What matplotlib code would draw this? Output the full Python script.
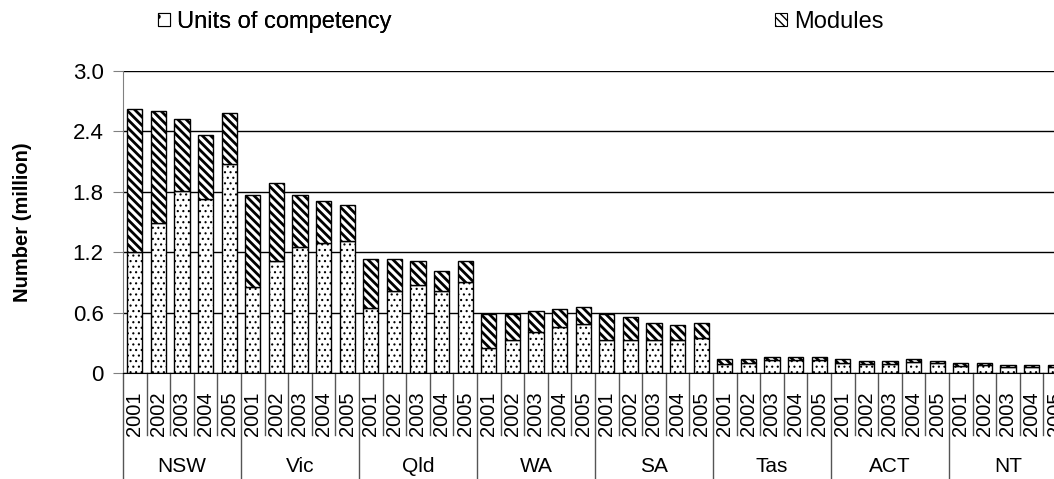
import matplotlib
matplotlib.use("Agg")
import matplotlib.pyplot as plt
import matplotlib.transforms as mtransforms
from matplotlib.patches import Patch
import numpy as np

plt.rcParams['font.family'] = ['Liberation Sans', 'DejaVu Sans']

states = ["NSW", "Vic", "Qld", "WA", "SA", "Tas", "ACT", "NT"]
years = ["2001", "2002", "2003", "2004", "2005"]

# million (state by state, 2001..2005)
units = [1.20, 1.49, 1.81, 1.73, 2.08,
         0.85, 1.11, 1.25, 1.29, 1.31,
         0.65, 0.81, 0.87, 0.81, 0.90,
         0.25, 0.33, 0.41, 0.46, 0.49,
         0.33, 0.33, 0.33, 0.33, 0.35,
         0.093, 0.099, 0.13, 0.13, 0.13,
         0.099, 0.093, 0.093, 0.112, 0.096,
         0.073, 0.075, 0.060, 0.062, 0.062]
modules = [1.42, 1.11, 0.71, 0.63, 0.50,
           0.92, 0.78, 0.52, 0.42, 0.36,
           0.48, 0.32, 0.24, 0.20, 0.21,
           0.34, 0.26, 0.205, 0.175, 0.165,
           0.26, 0.226, 0.166, 0.146, 0.146,
           0.046, 0.040, 0.029, 0.029, 0.029,
           0.040, 0.026, 0.026, 0.027, 0.023,
           0.026, 0.024, 0.019, 0.017, 0.017]
yticks = [0, 0.6, 1.2, 1.8, 2.4, 3.0]
ytick_labels = ["0", "0.6", "1.2", "1.8", "2.4", "3.0"]

fig = plt.figure(figsize=(10.54, 4.79), dpi=100)
ax = fig.add_axes([123/1054, 106/479, 944/1054, 302/479])

x = np.arange(len(units))
units = np.array(units)
modules = np.array(modules)

with plt.rc_context({'hatch.linewidth': 0.8}):
    ax.bar(x, units, width=0.65, color='white', edgecolor='black',
           linewidth=1.0, hatch='...', zorder=2)
with plt.rc_context({'hatch.linewidth': 2.0}):
    ax.bar(x, modules, bottom=units, width=0.65, color='white', edgecolor='black',
           linewidth=1.0, hatch='\\\\\\\\', zorder=2)

ax.set_xlim(-0.5, len(units) - 0.5)
ax.set_ylim(0, 3.0)
ax.set_yticks(yticks)
ax.set_yticklabels(ytick_labels)
ax.yaxis.grid(True, color='black', linewidth=1.0)
ax.set_axisbelow(True)
ax.tick_params(axis='y', direction='out', length=7, color='grey', labelsize=16, pad=7)
ax.set_xticks([])

for s in ['top', 'right']:
    ax.spines[s].set_visible(False)
ax.spines['left'].set_color('grey')
ax.spines['bottom'].set_color('black')

# category axis in two levels: years, then states
trans = mtransforms.blended_transform_factory(ax.transData, ax.transAxes)
for i in range(len(units) + 1):
    if i % 5 == 0:
        y0 = -0.355
    else:
        y0 = -0.205
    ax.plot([i - 0.5, i - 0.5], [0, y0], color='#555555', linewidth=1.0,
            transform=trans, clip_on=False)
for i in range(len(units)):
    ax.text(i, -0.135, years[i % 5], rotation=90, ha='center', va='center',
            fontsize=14.5, transform=trans, clip_on=False)
for k, st in enumerate(states):
    ax.text(5*k + 2, -0.31, st, ha='center', va='center', fontsize=15,
            transform=trans)

fig.text(23/1054, 1 - 222/479, "Number (million)", rotation=90, ha='center',
         va='center', fontsize=14.5, fontweight='bold')

with plt.rc_context({'hatch.linewidth': 0.8}):
    h1 = Patch(facecolor='white', edgecolor='black', hatch='.', linewidth=0.8)
with plt.rc_context({'hatch.linewidth': 1.6}):
    h2 = Patch(facecolor='white', edgecolor='black', hatch='\\\\\\\\', linewidth=0.8)
leg1 = fig.legend(handles=[h1], labels=["Units of competency"], loc='center left',
                  bbox_to_anchor=(158/1054, 1 - 22/479), frameon=False, fontsize=17,
                  handlelength=0.5, handleheight=0.5, handletextpad=0.3,
                  borderaxespad=0, borderpad=0)
fig.add_artist(leg1)
fig.legend(handles=[h2], labels=["Modules"], loc='center left',
           bbox_to_anchor=(775/1054, 1 - 22/479), frameon=False, fontsize=17,
           handlelength=0.5, handleheight=0.5, handletextpad=0.3,
           borderaxespad=0, borderpad=0)

fig.savefig("out.png", dpi=100)
